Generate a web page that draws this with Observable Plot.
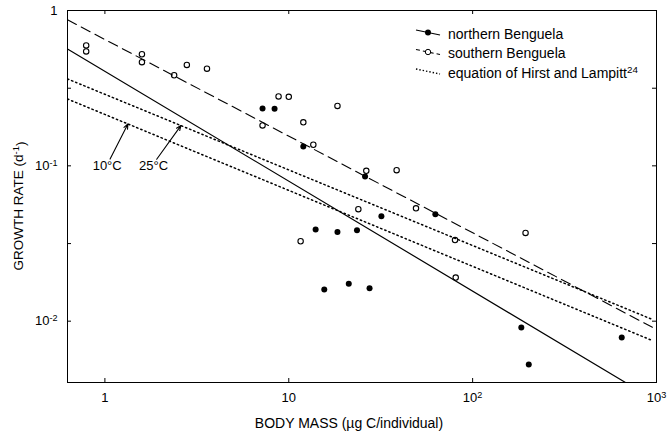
<!DOCTYPE html>
<html><head><meta charset="utf-8">
<script src="https://cdn.jsdelivr.net/npm/d3@7"></script>
<script src="https://cdn.jsdelivr.net/npm/@observablehq/plot@0.6"></script>
<style>
html,body{margin:0;padding:0;background:#fff;}
#chart svg{font-family:"Liberation Sans",Arial,Helvetica,sans-serif;}
</style></head><body><div id="chart"></div>
<script>
// northern Benguela (filled circles)
const northMass = [7.2, 8.37, 12.0, 26.0, 31.9, 14.0, 18.4, 23.5, 15.6, 21.2, 27.5, 62.7, 184, 202, 647];
const northRate = [0.234, 0.233, 0.133, 0.0854, 0.0474, 0.0389, 0.0375, 0.0385, 0.0160, 0.0174, 0.0163, 0.0488, 0.0091, 0.00526, 0.00785];
// southern Benguela (open circles)
const southMass = [0.791, 0.791, 1.59, 1.59, 2.38, 2.79, 3.59, 8.8, 10.0, 18.4, 7.2, 12.0, 13.6, 26.4, 38.6, 23.9, 49.2, 11.6, 80.2, 194, 80.9];
const southRate = [0.596, 0.545, 0.523, 0.465, 0.383, 0.446, 0.422, 0.280, 0.278, 0.243, 0.182, 0.1905, 0.1367, 0.0929, 0.0938, 0.0526, 0.0533, 0.0327, 0.0333, 0.0370, 0.0191];
// regression / equation lines (end points)
const northFitMass = [0.626, 678];
const northFitRate = [0.566, 0.00403];
const southFitMass = [0.626, 950];
const southFitRate = [0.871, 0.00914];
const hl25Mass = [0.626, 961];
const hl25Rate = [0.3626, 0.0102];
const hl10Mass = [0.626, 927];
const hl10Rate = [0.2693, 0.00759];
// temperature annotations
const tempLabels = ["10°C", "25°C"];
const arrowTailMass = [1.055, 1.885];
const arrowTailRate = [0.1077, 0.1077];
const arrowTipMass = [1.334, 2.59];
const arrowTipRate = [0.186, 0.1817];
// axes
const xTicks = [1, 10, 100, 1000];
const xTickBase = ["1", "10", "10", "10"];
const xTickSup = ["", "", "2", "3"];
const yTicks = [0.01, 0.1, 1];
const yTickBase = ["10", "10", "1"];
const yTickSup = ["-2", "-1", ""];
const yTickMarks = [0.01, 0.0316, 0.1, 0.316, 1];
const xLabel = "BODY MASS (µg C/individual)";
const yLabelBase = "GROWTH RATE (d";
const yLabelSup = "-1";
const legendLabels = ["northern Benguela", "southern Benguela", "equation of Hirst and Lampitt"];
const legendSup = "24";

const W = 667, H = 436, mL = 67, mR = 11, mT = 10, mB = 54;
const iW = W - mL - mR, iH = H - mT - mB;
const pts = (xs, ys) => xs.map((x, i) => ({x, y: ys[i]}));
const arrows = tempLabels.map((t, i) => ({t, x1: arrowTailMass[i], y1: arrowTailRate[i], x2: arrowTipMass[i], y2: arrowTipRate[i]}));
const TICK = 4;

const plot = Plot.plot({
  width: W, height: H,
  marginLeft: mL, marginRight: mR, marginTop: mT, marginBottom: mB,
  x: {type: "log", domain: [0.626, 1000]},
  y: {type: "log", domain: [0.00403, 1]},
  style: {fontFamily: '"Liberation Sans", Arial, sans-serif', background: "white", color: "black", overflow: "visible"},
  marks: [
    Plot.axisX(xTicks, {tickSize: 0, tickPadding: 10, fontSize: 13, label: null, tickFormat: (d) => { const i = xTicks.indexOf(d); return xTickBase[i] + (xTickSup[i] ? "^" + xTickSup[i] : ""); }}),
    Plot.axisY(yTicks, {tickSize: 0, tickPadding: 10, fontSize: 13, label: null, tickFormat: (d) => { const i = yTicks.indexOf(d); return yTickBase[i] + (yTickSup[i] ? "^" + yTickSup[i] : ""); }}),
    Plot.tickX(xTicks, {x: d => d, insetTop: iH - TICK, stroke: "black"}),
    Plot.tickX(xTicks, {x: d => d, insetBottom: iH - TICK, stroke: "black"}),
    Plot.tickY(yTickMarks, {y: d => d, insetRight: iW - TICK, stroke: "black"}),
    Plot.tickY(yTickMarks, {y: d => d, insetLeft: iW - TICK, stroke: "black"}),
    Plot.line(pts(southFitMass, southFitRate), {x: "x", y: "y", stroke: "black", strokeWidth: 1.1, strokeDasharray: "10 5.5", clip: true}),
    Plot.line(pts(northFitMass, northFitRate), {x: "x", y: "y", stroke: "black", strokeWidth: 1.2, clip: true}),
    Plot.line(pts(hl25Mass, hl25Rate), {x: "x", y: "y", stroke: "black", strokeWidth: 1.5, strokeDasharray: "1.4 3", clip: true}),
    Plot.line(pts(hl10Mass, hl10Rate), {x: "x", y: "y", stroke: "black", strokeWidth: 1.5, strokeDasharray: "1.4 3", clip: true}),
    Plot.dot(pts(southMass, southRate), {x: "x", y: "y", r: 2.7, stroke: "black", strokeWidth: 1.1, fill: "none"}),
    Plot.dot(pts(northMass, northRate), {x: "x", y: "y", r: 3, fill: "black", stroke: "none"}),
    Plot.arrow(arrows, {x1: "x1", y1: "y1", x2: "x2", y2: "y2", stroke: "black", strokeWidth: 1.1, headLength: 7, headAngle: 45, insetStart: 2}),
    Plot.text(arrows, {x: "x1", y: "y1", text: "t", dx: -2, dy: 5, fontSize: 13, fill: "black"}),
    Plot.frame({stroke: "black", strokeWidth: 1})
  ]
});

const svg = d3.select(plot);
// superscripts in tick labels
svg.selectAll('g[aria-label="x-axis tick label"] text, g[aria-label="y-axis tick label"] text').each(function() {
  const el = d3.select(this);
  const s = el.text();
  if (s.includes("^")) {
    const [b, p] = s.split("^");
    el.text(null);
    el.append("tspan").text(b);
    el.append("tspan").attr("dy", "-0.45em").attr("font-size", "70%").text(p);
  }
});
// axis labels
svg.append("text").attr("x", 349).attr("y", 428).attr("text-anchor", "middle")
  .attr("font-size", 14).attr("fill", "black").text(xLabel);
const yl = svg.append("text").attr("transform", `translate(23,206) rotate(-90)`)
  .attr("text-anchor", "middle").attr("font-size", 13.5).attr("fill", "black");
yl.append("tspan").text(yLabelBase);
yl.append("tspan").attr("dy", "-0.45em").attr("font-size", "70%").text(yLabelSup);
yl.append("tspan").attr("dy", "0.45em").text(")");

// legend
const lg = svg.append("g").attr("font-size", 14).attr("fill", "black").attr("text-anchor", "start");
const rows = [34, 53.5, 73];
const styles = [
  {dash: null, w: 1.2, dot: "fill"},
  {dash: "4 3", w: 1.1, dot: "open"},
  {dash: "1.4 2", w: 1.4, dot: null}
];
rows.forEach((ry, i) => {
  const st = styles[i];
  const ln = lg.append("line").attr("x1", 416).attr("y1", ry - 4).attr("x2", 440).attr("y2", ry + 1)
    .attr("stroke", "black").attr("stroke-width", st.w);
  if (st.dash) ln.attr("stroke-dasharray", st.dash);
  if (st.dot === "fill") lg.append("circle").attr("cx", 428).attr("cy", ry - 1.5).attr("r", 3).attr("fill", "black");
  if (st.dot === "open") lg.append("circle").attr("cx", 428).attr("cy", ry - 1.5).attr("r", 2.7).attr("fill", "white").attr("stroke", "black");
  const t = lg.append("text").attr("x", 448).attr("y", ry).attr("dy", "0.35em");
  t.append("tspan").text(legendLabels[i]);
  if (i === 2) t.append("tspan").attr("dy", "-0.5em").attr("font-size", "70%").text(legendSup);
});

document.getElementById("chart").appendChild(plot);
</script></body></html>
